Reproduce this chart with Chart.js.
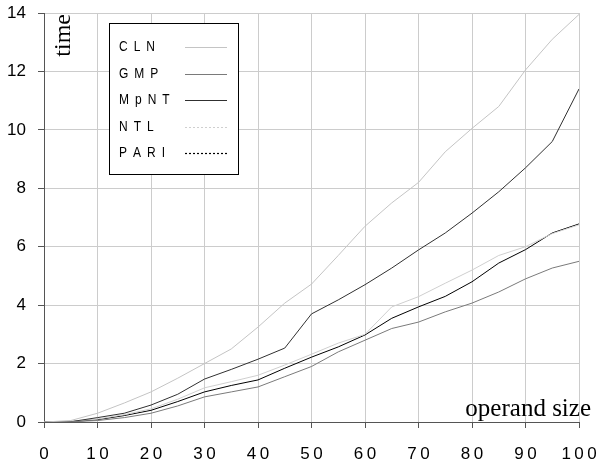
<!DOCTYPE html>
<html>
<head>
<meta charset="utf-8">
<script src="https://cdn.jsdelivr.net/npm/chart.js@4.4.1/dist/chart.umd.min.js"></script>
<style>
  html, body { margin: 0; padding: 0; background: #fff; }
  #c { display: block; }
</style>
</head>
<body>
<canvas id="c" width="596" height="470"></canvas>
<script>
// operand sizes read along the x axis
const sizes = [0, 5, 10, 15, 20, 25, 30, 35, 40, 45, 50, 55, 60, 65, 70, 75, 80, 85, 90, 95, 100];

// timings per library
const cln  = [0, 0.05, 0.3, 0.65, 1.03, 1.5, 2.0, 2.5, 3.25, 4.07, 4.72, 5.7, 6.7, 7.5, 8.2, 9.25, 10.05, 10.8, 12.05, 13.1, 13.95];
const gmp  = [0, 0.01, 0.05, 0.15, 0.3, 0.55, 0.86, 1.03, 1.2, 1.55, 1.9, 2.4, 2.8, 3.2, 3.42, 3.77, 4.07, 4.45, 4.9, 5.27, 5.5];
const mpnt = [0, 0.01, 0.15, 0.3, 0.58, 0.95, 1.47, 1.8, 2.15, 2.53, 3.7, 4.18, 4.7, 5.27, 5.89, 6.47, 7.15, 7.88, 8.7, 9.6, 11.4];
const ntl  = [0, 0.02, 0.1, 0.25, 0.45, 0.78, 1.17, 1.38, 1.6, 1.95, 2.32, 2.7, 3.0, 3.94, 4.29, 4.75, 5.2, 5.7, 6.0, 6.45, 6.75];
const pari = [0, 0.01, 0.08, 0.22, 0.4, 0.7, 1.03, 1.25, 1.44, 1.84, 2.22, 2.57, 2.98, 3.55, 3.94, 4.3, 4.8, 5.44, 5.9, 6.47, 6.78];

const names = ["CLN", "GMP", "MpNT", "NTL", "PARI"];
const xTicks = [0, 10, 20, 30, 40, 50, 60, 70, 80, 90, 100];
const yTicks = [0, 2, 4, 6, 8, 10, 12, 14];

const pts = vals => sizes.map((x, i) => ({ x: x, y: vals[i] }));

const styles = [
  { color: "#c4c4c4", dash: [] },
  { color: "#7a7a7a", dash: [] },
  { color: "#303030", dash: [] },
  { color: "#cfcfcf", dash: [2, 2] },
  { color: "#000000", dash: [2, 2] }
];

const series = [cln, gmp, mpnt, ntl, pari];

/* ---------- legend box + axis captions ---------- */
const overlay = {
  id: "overlay",
  afterDatasetsDraw(chart) {
    const ctx = chart.ctx;
    ctx.save();

    // legend
    ctx.fillStyle = "#fff";
    ctx.fillRect(109, 23, 129, 151);
    ctx.strokeStyle = "#000";
    ctx.lineWidth = 1;
    ctx.strokeRect(109.5, 23.5, 129, 151);

    ctx.font = "15px 'Liberation Sans Narrow', 'Liberation Sans', Arial, sans-serif";
    ctx.textBaseline = "middle";
    ctx.fillStyle = "#000";
    chart.data.datasets.forEach((ds, i) => {
      const y = 47 + i * 26.5;
      let x = 119;
      for (const ch of ds.label) {
        ctx.save();
        ctx.translate(x, y);
        ctx.scale(0.8, 1);
        ctx.fillText(ch, 0, 0);
        ctx.restore();
        x += ctx.measureText(ch).width * 0.8 + 6;
      }
      ctx.strokeStyle = ds.borderColor;
      ctx.setLineDash(styles[i].dash);
      ctx.lineWidth = 1.2;
      ctx.beginPath();
      ctx.moveTo(185, Math.round(y) + 0.5);
      ctx.lineTo(227, Math.round(y) + 0.5);
      ctx.stroke();
      ctx.setLineDash([]);
    });

    // axis captions
    ctx.fillStyle = "#000";
    ctx.font = "25px 'Liberation Serif', 'Times New Roman', serif";
    ctx.textBaseline = "alphabetic";
    ctx.textAlign = "right";
    ctx.fillText("operand size", 591, 416);

    ctx.save();
    ctx.translate(70, 14);
    ctx.rotate(-Math.PI / 2);
    ctx.font = "24px 'Liberation Serif', 'Times New Roman', serif";
    ctx.textAlign = "right";
    ctx.fillText("time", 0, 0);
    ctx.restore();

    ctx.restore();
  }
};

new Chart(document.getElementById("c"), {
  type: "line",
  data: {
    datasets: series.map((vals, i) => ({
      label: names[i],
      data: pts(vals),
      borderColor: styles[i].color,
      borderWidth: 1,
      pointRadius: 0,
      tension: 0,
      fill: false
    }))
  },
  options: {
    responsive: false,
    animation: false,
    devicePixelRatio: 1,
    layout: { padding: { top: 13, right: 17, left: 0, bottom: 0 } },
    plugins: { legend: { display: false }, tooltip: { enabled: false } },
    scales: {
      x: {
        type: "linear",
        min: 0,
        max: 100,
        afterBuildTicks: s => { s.ticks = xTicks.map(v => ({ value: v })); },
        afterFit: s => { s.height = 48; s.paddingLeft = 0; s.paddingRight = 0; },
        ticks: {
          color: "#000",
          padding: 16,
          maxRotation: 0,
          font: { family: "'Liberation Sans', Arial, sans-serif", size: 17 },
          callback: v => String(v).split("").join("\u2009")
        },
        grid: { color: "#cccccc", tickColor: "#555", tickLength: 6, lineWidth: 1 },
        border: { color: "#555", width: 1 }
      },
      y: {
        min: 0,
        max: 14,
        afterBuildTicks: s => { s.ticks = yTicks.map(v => ({ value: v })); },
        afterFit: s => { s.width = 44; s.paddingTop = 0; s.paddingBottom = 0; },
        ticks: {
          color: "#000",
          padding: 12,
          font: { family: "'Liberation Sans', Arial, sans-serif", size: 17 }
        },
        grid: { color: "#cccccc", tickColor: "#555", tickLength: 6, lineWidth: 1 },
        border: { color: "#555", width: 1 }
      }
    }
  },
  plugins: [overlay]
});
</script>
</body>
</html>
